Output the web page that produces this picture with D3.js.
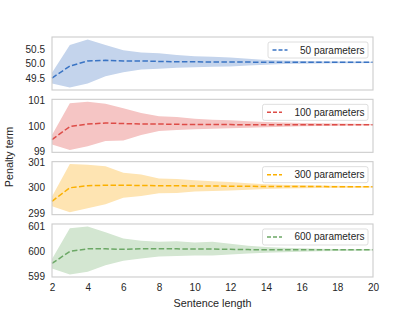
<!DOCTYPE html>
<html><head><meta charset="utf-8">
<script src="https://cdn.jsdelivr.net/npm/d3@7"></script>
<style>body{margin:0;background:#fff}svg text{font-family:"Liberation Sans",Arial,sans-serif;fill:#262626}</style>
</head><body><div id="c"></div>
<script>
const xs = [2,3,4,5,6,7,8,9,10,11,12,13,14,15,16,17,18,19,20];
const xTicks = [2,4,6,8,10,12,14,16,18,20];
const labels = ["50 parameters","100 parameters","300 parameters","600 parameters"];
const colors = ["#3a74c4","#dd4c47","#fbb000","#6ca866"];
const fills = ["#c4d4ec","#f5c5c4","#fee4b2","#d3e6d1"];
const yTicks = [[49.5,50.0,50.5],[99,100,101],[299,300,301],[599,600,601]];
const yFormats = [".1f","d","d","d"];

const mean50 = [49.51,49.92,50.10,50.12,50.10,50.10,50.08,50.07,50.07,50.06,50.06,50.06,50.05,50.05,50.05,50.05,50.05,50.05,50.05];
const upper50 = [49.69,50.65,50.84,50.65,50.47,50.39,50.36,50.30,50.26,50.24,50.22,50.17,50.13,50.11,50.10,50.09,50.08,50.08,50.07];
const lower50 = [49.32,49.18,49.32,49.57,49.71,49.80,49.83,49.86,49.88,49.90,49.91,49.94,49.97,49.99,50.00,50.01,50.02,50.02,50.03];

const mean100 = [99.46,99.97,100.07,100.11,100.09,100.07,100.07,100.06,100.05,100.05,100.05,100.04,100.04,100.04,100.04,100.04,100.04,100.04,100.04];
const upper100 = [99.64,100.89,100.95,100.87,100.69,100.51,100.38,100.35,100.28,100.24,100.22,100.18,100.15,100.13,100.11,100.10,100.09,100.08,100.07];
const lower100 = [99.26,99.05,99.19,99.40,99.42,99.64,99.80,99.84,99.87,99.88,99.90,99.92,99.94,99.96,99.98,99.99,100.00,100.01,100.02];

const mean300 = [299.47,300.00,300.08,300.10,300.10,300.09,300.08,300.08,300.07,300.07,300.06,300.06,300.05,300.05,300.05,300.05,300.04,300.04,300.04];
const upper300 = [299.66,300.93,300.90,300.84,300.59,300.52,300.36,300.34,300.30,300.26,300.23,300.18,300.14,300.12,300.10,300.09,300.08,300.07,300.06];
const lower300 = [299.28,299.04,299.20,299.35,299.61,299.68,299.79,299.80,299.85,299.87,299.89,299.92,299.95,299.97,299.98,299.99,300.00,300.00,300.01];

const mean600 = [599.52,600.00,600.10,600.10,600.08,600.10,600.10,600.10,600.09,600.09,600.08,600.07,600.06,600.06,600.06,600.06,600.06,600.06,600.06];
const upper600 = [599.70,600.92,600.99,600.76,600.51,600.42,600.38,600.40,600.35,600.38,600.30,600.22,600.17,600.14,600.12,600.10,600.09,600.08,600.08];
const lower600 = [599.32,599.08,599.19,599.45,599.63,599.72,599.80,599.82,599.84,599.84,599.88,599.92,599.95,599.97,599.99,600.00,600.01,600.02,600.03];

const means = [mean50,mean100,mean300,mean600];
const uppers = [upper50,upper100,upper300,upper600];
const lowers = [lower50,lower100,lower300,lower600];

const W = 415, H = 311;
const left = 52, right = 373, top0 = 37, ph = 53, gap = 9.33;
const svg = d3.select("#c").append("svg").attr("width",W).attr("height",H);
const x = d3.scaleLinear().domain([2,20]).range([left,right]);

for (let i=0;i<4;i++){
  const t = top0 + i*(ph+gap), b = t+ph;
  const lo = d3.min(lowers[i]), hi = d3.max(uppers[i]);
  const m = (hi-lo)*0.05;
  const y = d3.scaleLinear().domain([lo-m,hi+m]).range([b,t]);
  const g = svg.append("g");
  const area = d3.area().x((d,j)=>x(xs[j])).y0((d,j)=>y(lowers[i][j])).y1((d,j)=>y(uppers[i][j]));
  g.append("path").datum(xs).attr("d",area).attr("fill",fills[i]).attr("stroke","none");
  const line = d3.line().x((d,j)=>x(xs[j])).y((d,j)=>y(means[i][j]));
  g.append("path").datum(xs).attr("d",line).attr("fill","none").attr("stroke",colors[i])
    .attr("stroke-width",1.5).attr("stroke-dasharray","5.5,2.4");
  g.append("rect").attr("x",left).attr("y",t).attr("width",right-left).attr("height",ph)
    .attr("fill","none").attr("stroke","#cccccc").attr("stroke-width",1.1);
  const ya = d3.axisLeft(y).tickValues(yTicks[i]).tickSize(0).tickPadding(7).tickFormat(d3.format(yFormats[i]));
  const ag = svg.append("g").attr("transform",`translate(${left},0)`).call(ya);
  ag.select(".domain").remove();
  ag.selectAll("text").attr("font-size",10).attr("fill","#262626");
  // legend
  const lw = i==0 ? 100 : 105.5;
  const lx = 368 - lw, ly = t+5;
  const lg = svg.append("g");
  lg.append("rect").attr("x",lx).attr("y",ly).attr("width",lw).attr("height",16).attr("rx",2)
    .attr("fill","#fff").attr("fill-opacity",0.8).attr("stroke","#d6d6d6").attr("stroke-width",0.8);
  lg.append("line").attr("x1",lx+4.5).attr("x2",lx+19.5).attr("y1",ly+8).attr("y2",ly+8)
    .attr("stroke",colors[i]).attr("stroke-width",1.5).attr("stroke-dasharray","4,2");
  lg.append("text").attr("x",lx+32).attr("y",ly+11.5).attr("font-size",10).text(labels[i]);
}
const xa = d3.axisBottom(x).tickValues(xTicks).tickSize(0).tickPadding(7).tickFormat(d3.format("d"));
const xg = svg.append("g").attr("transform",`translate(0,${top0+4*ph+3*gap})`).call(xa);
xg.select(".domain").remove();
xg.selectAll("text").attr("font-size",10).attr("fill","#262626");
svg.append("text").attr("x",(left+right)/2).attr("y",306.5).attr("text-anchor","middle").attr("font-size",10.8).text("Sentence length");
svg.append("text").attr("transform","translate(13,157) rotate(-90)").attr("text-anchor","middle").attr("font-size",10.8).text("Penalty term");
</script></body></html>
